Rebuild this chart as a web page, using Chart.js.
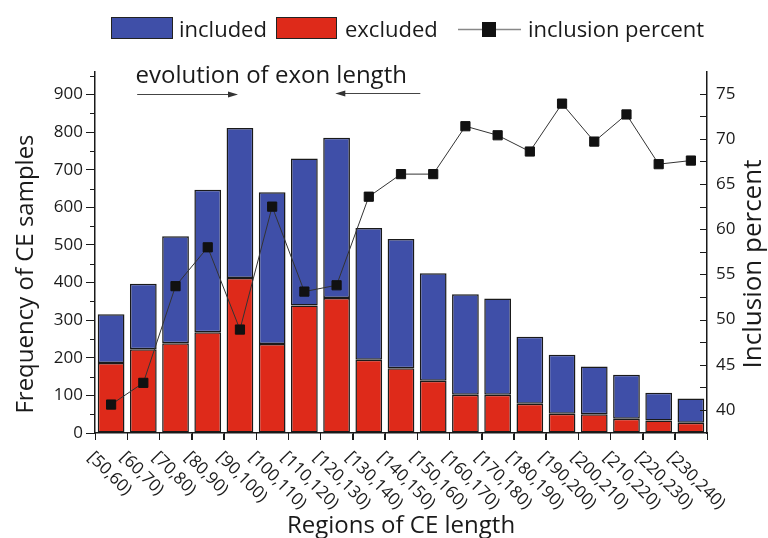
<!DOCTYPE html>
<html>
<head>
<meta charset="utf-8">
<script src="https://cdn.jsdelivr.net/npm/chart.js@4.4.1/dist/chart.umd.min.js"></script>
<style>
  html, body { margin: 0; padding: 0; background: #fff; }
  canvas { display: block; }
</style>
</head>
<body>
<canvas id="ceChart" width="768" height="538"></canvas>
<script>
// 1. Data
const categories = ['[50,60)', '[60,70)', '[70,80)', '[80,90)', '[90,100)', '[100,110)', '[110,120)',
    '[120,130)', '[130,140)', '[140,150)', '[150,160)', '[160,170)', '[170,180)', '[180,190)',
    '[190,200)', '[200,210)', '[210,220)', '[220,230)', '[230,240)'];
const excluded = [186, 223, 239, 268, 412, 237, 339, 359, 195, 172, 139, 102, 102, 78, 51, 50, 38, 33, 27];
const included = [130, 174, 284, 379, 399, 403, 391, 426, 350, 344, 286, 267, 256, 178, 157, 127, 117, 74, 65];
const inclusionPercent = [40.6, 43.0, 53.7, 58.0, 48.9, 62.5, 53.1, 53.8, 63.6, 66.1, 66.1, 71.4, 70.4, 68.6, 73.9, 69.7, 72.7, 67.2, 67.6];
const leftTicks = [0, 100, 200, 300, 400, 500, 600, 700, 800, 900];
const rightTicks = [40, 45, 50, 55, 60, 65, 70, 75];

// 2. Styles
const FONT = "'Open Sans', sans-serif";
const INK = '#1a1a1a';
const BLUE = '#3f4fa8';
const RED = '#de2a1a';

// Helper: horizontal arrow with a filled head at x2
const drawArrow = (ctx, x1, x2, y) => {
    const dir = x2 > x1 ? 1 : -1;
    ctx.strokeStyle = '#444';
    ctx.fillStyle = '#333';
    ctx.lineWidth = 1;
    ctx.beginPath();
    ctx.moveTo(x1, y);
    ctx.lineTo(x2 - dir * 6, y);
    ctx.stroke();
    ctx.beginPath();
    ctx.moveTo(x2, y);
    ctx.lineTo(x2 - dir * 10, y - 3);
    ctx.lineTo(x2 - dir * 10, y + 3);
    ctx.closePath();
    ctx.fill();
};

// 3. Plugin for the parts Chart.js can't do itself
const extrasPlugin = {
    id: 'extras',
    afterDraw(chart) {
        const { ctx, chartArea, scales } = chart;
        const xs = scales.x, yl = scales.y, yr = scales.y1;
        ctx.save();

        // tick marks between categories, minor left ticks, inward right ticks
        ctx.strokeStyle = INK;
        ctx.lineWidth = 1;
        ctx.beginPath();
        for (let i = 0; i <= categories.length; i++) {
            const px = Math.round(xs.getPixelForValue(i - 0.5)) + 0.5;
            ctx.moveTo(px, chartArea.bottom);
            ctx.lineTo(px, chartArea.bottom + 7);
        }
        for (let v = 50; v < yl.max; v += 100) {
            const py = Math.round(yl.getPixelForValue(v)) + 0.5;
            ctx.moveTo(chartArea.left - 5, py);
            ctx.lineTo(chartArea.left, py);
        }
        for (let v = 40; v <= 77; v += 2.5) {
            const py = Math.round(yr.getPixelForValue(v)) + 0.5;
            ctx.moveTo(chartArea.right - 7, py);
            ctx.lineTo(chartArea.right, py);
        }
        ctx.stroke();

        // rotated category labels
        ctx.fillStyle = INK;
        ctx.font = `17px ${FONT}`;
        ctx.textAlign = 'left';
        ctx.textBaseline = 'alphabetic';
        categories.forEach((c, i) => {
            ctx.save();
            ctx.translate(xs.getPixelForValue(i) - 24, chartArea.bottom + 25);
            ctx.rotate(45 * Math.PI / 180);
            ctx.fillText(c, 0, 0);
            ctx.restore();
        });

        // axis titles
        ctx.font = `24px ${FONT}`;
        ctx.textAlign = 'center';
        ctx.fillText('Regions of CE length', (chartArea.left + chartArea.right) / 2, 533);
        ctx.save();
        ctx.translate(33, 274);
        ctx.rotate(-Math.PI / 2);
        ctx.fillText('Frequency of CE samples', 0, 0);
        ctx.restore();
        ctx.save();
        ctx.font = `26px ${FONT}`;
        ctx.translate(761, 264);
        ctx.rotate(-Math.PI / 2);
        ctx.fillText('Inclusion percent', 0, 0);
        ctx.restore();

        // annotation
        ctx.font = `24px ${FONT}`;
        ctx.fillText('evolution of exon length', xs.getPixelForValue(4.97), chartArea.top + 11);
        drawArrow(ctx, xs.getPixelForValue(0.81), xs.getPixelForValue(3.94), chartArea.top + 22.5);
        drawArrow(ctx, xs.getPixelForValue(9.6), xs.getPixelForValue(6.96), chartArea.top + 21.5);

        // legend
        ctx.font = `22px ${FONT}`;
        ctx.textAlign = 'left';
        ctx.lineWidth = 1;
        ctx.strokeStyle = '#222';
        ctx.fillStyle = BLUE;
        ctx.fillRect(111, 17, 62, 22);
        ctx.strokeRect(111.5, 17.5, 61, 21);
        ctx.fillStyle = RED;
        ctx.fillRect(276, 17, 61, 22);
        ctx.strokeRect(276.5, 17.5, 60, 21);
        ctx.strokeStyle = '#888';
        ctx.lineWidth = 1.5;
        ctx.beginPath();
        ctx.moveTo(458, 29.5);
        ctx.lineTo(521, 29.5);
        ctx.stroke();
        ctx.fillStyle = '#111';
        ctx.fillRect(482, 22, 14, 15);
        ctx.fillStyle = INK;
        ctx.fillText('included', 179, 37);
        ctx.fillText('excluded', 345, 37);
        ctx.fillText('inclusion percent', 528, 37);

        ctx.restore();
    }
};

// 4. Chart
const chart = new Chart(document.getElementById('ceChart'), {
    data: {
        labels: categories,
        datasets: [{
            type: 'bar',
            label: 'excluded',
            data: excluded,
            backgroundColor: RED,
            borderColor: INK,
            borderWidth: 1.5,
            borderSkipped: false,
            barPercentage: 0.83,
            categoryPercentage: 1,
            order: 1
        }, {
            type: 'bar',
            label: 'included',
            data: included,
            backgroundColor: BLUE,
            borderColor: INK,
            borderWidth: 1.5,
            borderSkipped: false,
            barPercentage: 0.83,
            categoryPercentage: 1,
            order: 1
        }, {
            type: 'line',
            label: 'inclusion percent',
            data: inclusionPercent,
            yAxisID: 'y1',
            borderColor: '#333',
            borderWidth: 1,
            pointStyle: 'rect',
            pointRadius: 6.5,
            pointBackgroundColor: '#111',
            pointBorderColor: '#111',
            pointBorderWidth: 1,
            tension: 0,
            order: 0
        }]
    },
    options: {
        responsive: false,
        animation: false,
        devicePixelRatio: 1,
        layout: { padding: { top: 72, left: 0, right: 0, bottom: 0 } },
        plugins: {
            legend: { display: false },
            tooltip: { enabled: false }
        },
        scales: {
            x: {
                stacked: true,
                offset: true,
                grid: { drawOnChartArea: false, tickLength: 7, color: INK },
                border: { color: INK, width: 1.5 },
                ticks: { display: false },
                afterFit: (s) => { s.height = 105; }
            },
            y: {
                stacked: true,
                position: 'left',
                min: 0,
                max: 960,
                afterBuildTicks: (s) => { s.ticks = leftTicks.map(v => ({ value: v })); },
                grid: { drawOnChartArea: false, tickLength: 9, color: INK },
                border: { color: INK, width: 1.5 },
                ticks: { padding: 3, color: INK, font: { family: FONT, size: 17 } },
                afterFit: (s) => { s.width = 95; }
            },
            y1: {
                position: 'right',
                min: 37.45,
                max: 77.4,
                afterBuildTicks: (s) => { s.ticks = rightTicks.map(v => ({ value: v })); },
                grid: { drawOnChartArea: false, drawTicks: false },
                border: { color: INK, width: 1.5 },
                ticks: { padding: 9, color: INK, font: { family: FONT, size: 17 } },
                afterFit: (s) => { s.width = 61; }
            }
        }
    },
    plugins: [extrasPlugin]
});
</script>
</body>
</html>
